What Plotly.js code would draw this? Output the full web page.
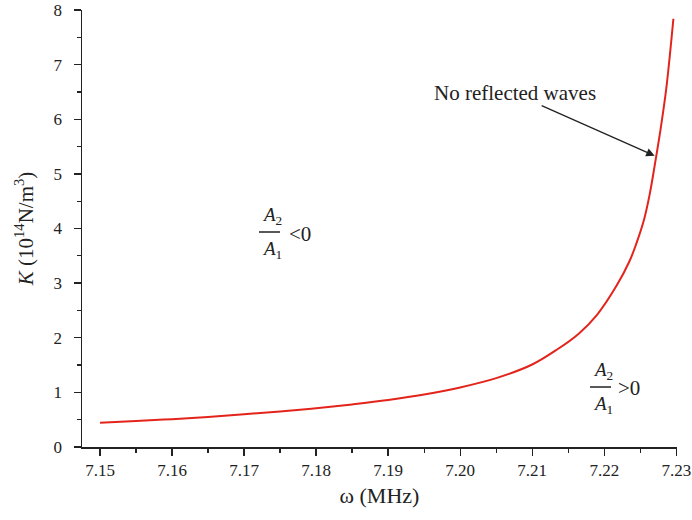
<!DOCTYPE html>
<html>
<head>
<meta charset="utf-8">
<script src="https://cdn.plot.ly/plotly-3.0.1.min.js"></script>
<style>html,body{margin:0;padding:0;background:#fff;}#chart{width:692px;height:520px;}</style>
</head>
<body>
<div id="chart"></div>
<script>
// Data
const omega = [7.15, 7.155, 7.16, 7.165, 7.17, 7.175, 7.18, 7.185, 7.19, 7.195, 7.20, 7.205, 7.21, 7.2134, 7.2165, 7.219, 7.2217, 7.2235, 7.2245, 7.2255, 7.2263, 7.227, 7.2278, 7.2286, 7.2296];
const K     = [0.445, 0.475, 0.51, 0.55, 0.60, 0.65, 0.71, 0.78, 0.86, 0.96, 1.09, 1.26, 1.51, 1.78, 2.08, 2.42, 2.95, 3.40, 3.74, 4.15, 4.62, 5.15, 5.80, 6.55, 7.84];
const xTicks = [7.15, 7.16, 7.17, 7.18, 7.19, 7.20, 7.21, 7.22, 7.23];
const xTickText = ["7.15", "7.16", "7.17", "7.18", "7.19", "7.20", "7.21", "7.22", "7.23"];
const yTicks = [0, 1, 2, 3, 4, 5, 6, 7, 8];

const serif = "Liberation Serif, Times New Roman, serif";
const ink = "#222";

const trace = {
  x: omega, y: K, type: "scatter", mode: "lines",
  line: {color: "#e3241c", width: 2, shape: "spline", smoothing: 1},
  hoverinfo: "skip", showlegend: false
};

// pixel helpers for annotation placement in paper coords
const L = 82, R = 15, T = 10, B = 73;
const W = 692 - L - R, H = 520 - T - B;
const px = v => (v - L) / W;
const py = v => (520 - B - v) / H;

const layout = {
  width: 692, height: 520,
  margin: {l: L, r: R, t: T, b: B},
  paper_bgcolor: "#fff", plot_bgcolor: "#fff",
  font: {family: serif, color: ink, size: 17},
  xaxis: {
    range: [7.1475, 7.2301], showgrid: false, zeroline: false,
    showline: true, linecolor: ink, linewidth: 1.5,
    ticks: "outside", ticklen: 7, tickwidth: 1.3, tickcolor: ink,
    tickmode: "array", tickvals: xTicks, ticktext: xTickText,
    ticklabeloverflow: "allow",
    tickfont: {family: serif, size: 17, color: ink},
    minor: {dtick: 0.005, tick0: 7.15, ticks: "outside", ticklen: 4, tickwidth: 1.3, tickcolor: ink, showgrid: false},
    title: {text: "ω (MHz)", font: {family: serif, size: 22, color: ink}, standoff: 8}
  },
  yaxis: {
    range: [0, 8], showgrid: false, zeroline: false,
    showline: true, linecolor: ink, linewidth: 1.5,
    ticks: "outside", ticklen: 7, tickwidth: 1.3, tickcolor: ink,
    tickmode: "array", tickvals: yTicks, ticklabelstandoff: 8,
    ticklabeloverflow: "allow",
    tickfont: {family: serif, size: 17, color: ink},
    minor: {dtick: 0.5, tick0: 0, ticks: "outside", ticklen: 4, tickwidth: 1.3, tickcolor: ink, showgrid: false},
    title: {text: "<i>K</i> (10<sup>14</sup>N/m<sup>3</sup>)", font: {family: serif, size: 21, color: ink}, standoff: 14}
  },
  shapes: [
    {type: "line", xref: "paper", yref: "paper", x0: px(259), x1: px(280), y0: py(232), y1: py(232), line: {color: ink, width: 1.5}},
    {type: "line", xref: "paper", yref: "paper", x0: px(590), x1: px(611), y0: py(387), y1: py(387), line: {color: ink, width: 1.5}}
  ],
  annotations: [
    {text: "", x: 7.2270, y: 5.33, ax: 7.2111, ay: 6.26, axref: "x", ayref: "y",
     showarrow: true, arrowhead: 2, arrowsize: 1.3, arrowwidth: 1.3, arrowcolor: ink, standoff: 0},
    {text: "No reflected waves", xref: "paper", yref: "paper", x: px(515), y: py(93), xanchor: "center", yanchor: "middle",
     showarrow: false, font: {family: serif, size: 21, color: ink}},
    {text: "<i>A</i><sub>2</sub>", xref: "paper", yref: "paper", x: px(260), y: py(216), xanchor: "left", yanchor: "middle", showarrow: false, font: {family: serif, size: 19, color: ink}},
    {text: "<i>A</i><sub>1</sub>", xref: "paper", yref: "paper", x: px(260), y: py(250), xanchor: "left", yanchor: "middle", showarrow: false, font: {family: serif, size: 19, color: ink}},
    {text: "&lt;0", xref: "paper", yref: "paper", x: px(287), y: py(234), xanchor: "left", yanchor: "middle", showarrow: false, font: {family: serif, size: 21, color: ink}},
    {text: "<i>A</i><sub>2</sub>", xref: "paper", yref: "paper", x: px(591), y: py(371), xanchor: "left", yanchor: "middle", showarrow: false, font: {family: serif, size: 19, color: ink}},
    {text: "<i>A</i><sub>1</sub>", xref: "paper", yref: "paper", x: px(591), y: py(405), xanchor: "left", yanchor: "middle", showarrow: false, font: {family: serif, size: 19, color: ink}},
    {text: "&gt;0", xref: "paper", yref: "paper", x: px(616), y: py(388), xanchor: "left", yanchor: "middle", showarrow: false, font: {family: serif, size: 21, color: ink}}
  ]
};

Plotly.newPlot("chart", [trace], layout, {displayModeBar: false, staticPlot: true});
</script>
</body>
</html>
